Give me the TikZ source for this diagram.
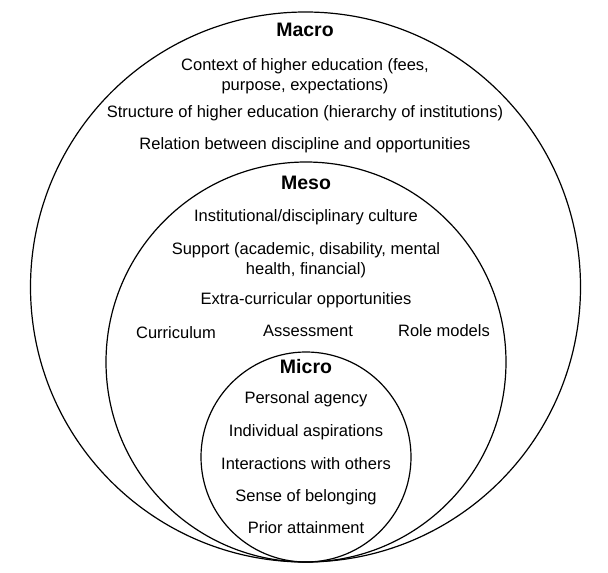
\documentclass[tikz,border=0pt]{standalone}
\usepackage{fontspec}
\setmainfont{Liberation Sans}
\usetikzlibrary{positioning}
\tikzset{
  ring/.style ={circle,draw=black,line width=1.2pt,inner sep=0pt},
  hd/.style   ={font=\fontsize{19.5}{22}\selectfont\bfseries,inner sep=0pt},
  itm/.style  ={font=\fontsize{16.5}{20}\selectfont,align=center,inner sep=0pt},
}

\begin{document}
\begin{tikzpicture}[x=1pt,y=-1pt]
\useasboundingbox (0,0) rectangle (608,573);

% ----- rings, all touching at the bottom -----
\node[ring,minimum size=550pt] (macroR) at (305.5,287) {};
\node[ring,minimum size=400pt] (mesoR)  at (306,362) {};
\node[ring,minimum size=210pt] (microR) at (306,457) {};

% ----- macro level -----
\node[hd]  (macro) at (305,30) {Macro};
\node[itm] (ctx)   at (305,76) {Context of higher education (fees,\\purpose, expectations)};
\node[itm] (str)   at (305,113) {Structure of higher education (hierarchy of institutions)};
\node[itm] (rel)   at (305,145) {Relation between discipline and opportunities};

% ----- meso level -----
\node[hd]  (meso) at (306,183) {Meso};
\node[itm] (inst) at (306,217) {Institutional/disciplinary culture};
\node[itm] (sup)  at (306,260) {Support (academic, disability, mental\\health, financial)};
\node[itm] (extra) at (306,300) {Extra-curricular opportunities};
\node[itm] (curr) at (176,333) {Curriculum};
\node[itm] (ass)  at (308,331) {Assessment};
\node[itm] (role) at (444,331) {Role models};

% ----- micro level -----
\node[hd]  (micro) at (306,367) {Micro};
\node[itm] (agency) at (306,399) {Personal agency};
\node[itm] (asp)    at (306,432) {Individual aspirations};
\node[itm] (inter)  at (306,464) {Interactions with others};
\node[itm] (belong) at (306,497) {Sense of belonging};
\node[itm] (prior)  at (306,528) {Prior attainment};
\end{tikzpicture}
\end{document}
